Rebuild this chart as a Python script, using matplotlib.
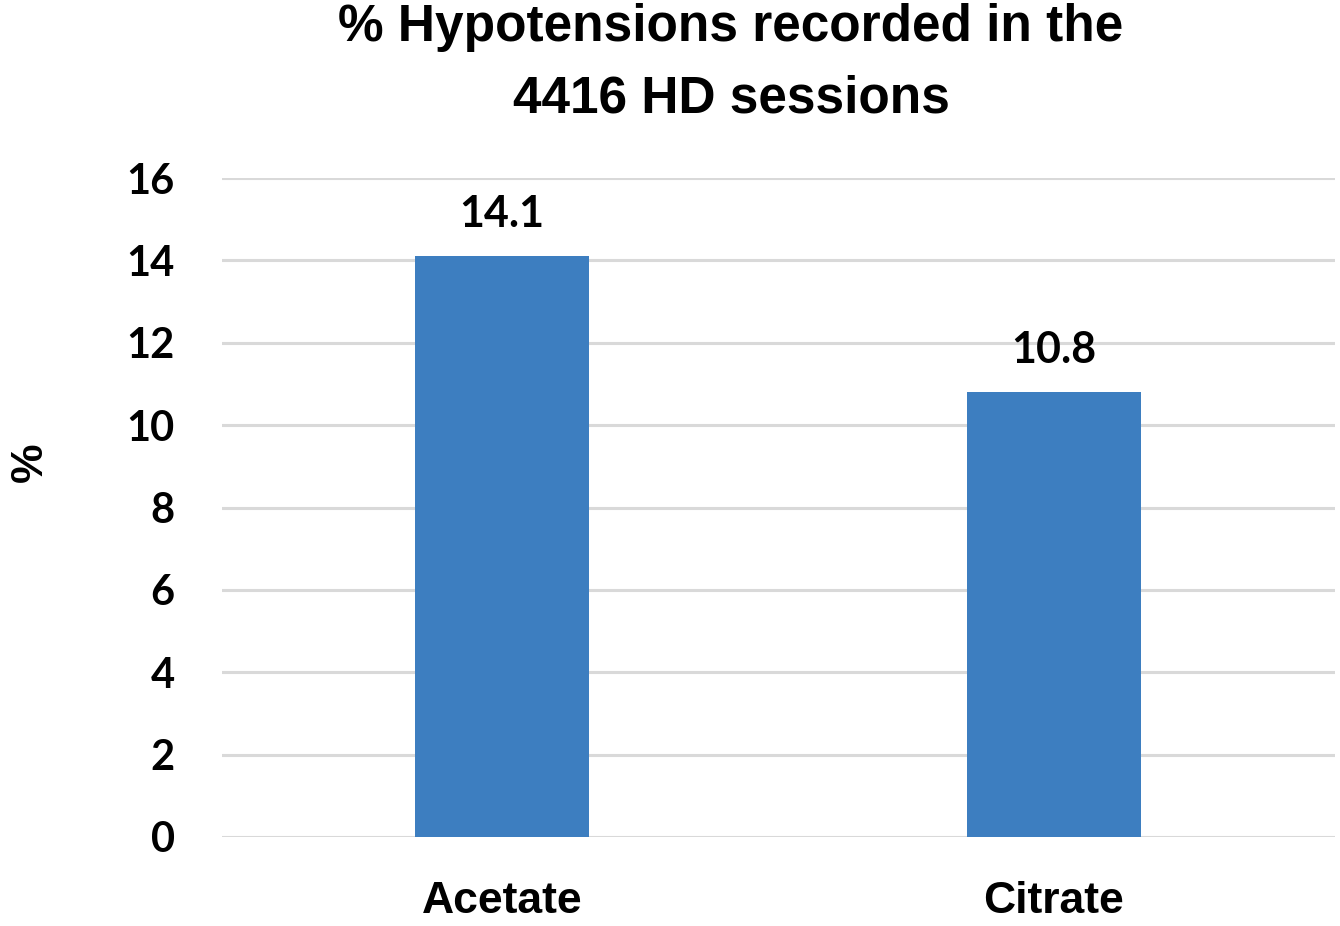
import matplotlib
matplotlib.use("Agg")
import matplotlib.pyplot as plt

# values
categories = ["Acetate", "Citrate"]
percentages = [14.1, 10.8]
yticks = [0, 2, 4, 6, 8, 10, 12, 14, 16]

BAR_COLOR = "#3D7EC0"
GRID_COLOR = "#D9D9D9"

fig = plt.figure(figsize=(13.4, 9.26), dpi=100)
ax = fig.add_axes([222 / 1340, 89 / 926, 1113 / 1340, 659 / 926])

x = range(len(categories))
bars = ax.bar(x, percentages, width=0.314, color=BAR_COLOR, zorder=3)

ax.set_xlim(-0.507, 1.509)
ax.set_ylim(0, 16)
ax.set_yticks(yticks)
ax.set_yticklabels([str(t) for t in yticks], fontfamily="Lato", fontweight="bold", fontsize=30)
ax.set_xticks(list(x))
ax.set_xticklabels(categories, fontfamily="Liberation Sans", fontweight="bold", fontsize=32)
ax.tick_params(axis="y", length=0, pad=34)
ax.tick_params(axis="x", length=0, pad=32)

ax.yaxis.grid(True, color=GRID_COLOR, linewidth=2.2, zorder=0)
for s in ax.spines.values():
    s.set_visible(False)

# value labels above bars
for b, v in zip(bars, percentages):
    ax.annotate(f"{v}", (b.get_x() + b.get_width() / 2, v), xytext=(0, 16),
                textcoords="offset points", ha="center", va="bottom",
                fontfamily="Lato", fontweight="bold", fontsize=31)

fig.text(731 / 1340, 1 - 63 / 926, "% Hypotensions recorded in the\n4416 HD sessions",
         ha="center", va="center", fontfamily="Liberation Sans", fontweight="bold",
         fontsize=37, linespacing=1.58)
fig.text(30 / 1340, 1 - 462 / 926, "%", rotation=90, ha="center", va="center",
         fontfamily="Liberation Sans", fontweight="bold", fontsize=32)

fig.savefig("out.png", dpi=100)
